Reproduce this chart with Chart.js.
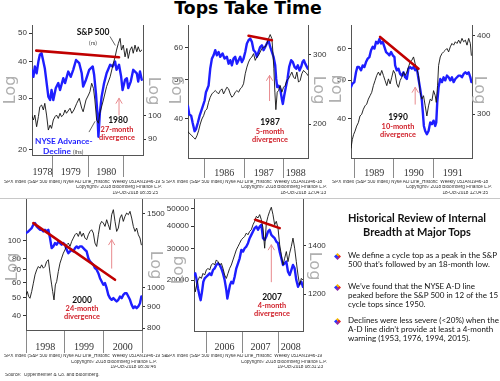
<!DOCTYPE html>
<html><head><meta charset="utf-8">
<script src="https://cdn.jsdelivr.net/npm/chart.js"></script>
<style>
html,body{margin:0;padding:0;background:#fff;}
#root{position:relative;width:500px;height:381px;overflow:hidden;background:#fff;font-family:Lato,'Liberation Sans',sans-serif;}
canvas{position:absolute;}
.t{position:absolute;white-space:nowrap;line-height:1;}
.c{transform:translate(-50%,-50%);}
.l{transform:translate(0,-50%);}
.yr{font-weight:bold;font-size:8.5px;color:#111;}
.red{font-weight:bold;font-size:7.4px;color:#d0202a;}
.log{position:absolute;font-family:'DejaVu Sans';font-size:16px;color:#b0b0b0;line-height:1;white-space:nowrap;}
.lg{transform:translate(-50%,-50%) rotate(-90deg);}
.rg{transform:translate(-50%,-50%) rotate(90deg);}
.fn{position:absolute;font-family:'Liberation Sans';font-size:4.7px;color:#333;white-space:nowrap;line-height:1;overflow:hidden;}
.fr{text-align:right;}
.bul{position:absolute;font-family:Lato;font-size:8px;color:#111;line-height:9px;white-space:nowrap;}
.ico{position:absolute;width:7px;height:7px;clip-path:polygon(50% 0,100% 50%,50% 100%,0 50%);background:conic-gradient(from -45deg,#f0b400 0 25%,#e02828 0 50%,#8a2aa8 0 75%,#2838ff 0);}
</style></head>
<body><div id="root">
<div class="t c" style="left:248px;top:9px;font-family:'DejaVu Sans';font-weight:bold;font-size:17.3px;color:#000;">Tops Take Time</div>

<canvas id="c1" width="165" height="162" style="left:0;top:21px;width:165px;height:162px"></canvas>
<canvas id="c2" width="165" height="162" style="left:165px;top:21px;width:165px;height:162px"></canvas>
<canvas id="c3" width="170" height="162" style="left:330px;top:21px;width:170px;height:162px"></canvas>
<canvas id="c4" width="165" height="165" style="left:0;top:195px;width:165px;height:165px"></canvas>
<canvas id="c5" width="165" height="165" style="left:165px;top:195px;width:165px;height:165px"></canvas>

<div style="position:absolute;left:0;top:198px;width:500px;height:1px;background:#c8c8c8"></div>

<!-- Log axis titles -->
<div class="log lg" style="left:10px;top:90px">Log</div>
<div class="log rg" style="left:154px;top:91px">Log</div>
<div class="log lg" style="left:176px;top:90px">Log</div>
<div class="log rg" style="left:319px;top:90px">Log</div>
<div class="log lg" style="left:336px;top:89px">Log</div>
<div class="log rg" style="left:480px;top:90px">Log</div>
<div class="log lg" style="left:12px;top:267px">Log</div>
<div class="log rg" style="left:156px;top:265px">Log</div>
<div class="log lg" style="left:178px;top:270px">Log</div>
<div class="log rg" style="left:315px;top:266px">Log</div>

<!-- panel 1 annotations -->
<div class="t c" style="left:93px;top:32px;font-weight:bold;font-size:8.5px;color:#111">S&amp;P 500</div>
<div class="t c" style="left:93px;top:43px;font-size:6px;color:#444">(rs)</div>
<div class="t l" style="left:35px;top:141px;font-weight:bold;font-size:8.3px;color:#1e1eff">NYSE Advance-</div>
<div class="t l" style="left:43px;top:151px;font-weight:bold;font-size:8.3px;color:#1e1eff">Decline <span style="font-weight:normal;font-size:6px;color:#444">(lhs)</span></div>
<div class="t c yr" style="left:118px;top:120px">1980</div>
<div class="t c red" style="left:117px;top:130px">27-month</div>
<div class="t c red" style="left:117px;top:138px">divergence</div>
<!-- panel 2 -->
<div class="t c yr" style="left:270px;top:122px">1987</div>
<div class="t c red" style="left:270px;top:132px">5-month</div>
<div class="t c red" style="left:270px;top:140px">divergence</div>
<!-- panel 3 -->
<div class="t c yr" style="left:398px;top:117px">1990</div>
<div class="t c red" style="left:398px;top:127px">10-month</div>
<div class="t c red" style="left:398px;top:135px">divergence</div>
<!-- panel 4 -->
<div class="t c yr" style="left:82px;top:300px">2000</div>
<div class="t c red" style="left:82px;top:309px">24-month</div>
<div class="t c red" style="left:82px;top:317px">divergence</div>
<!-- panel 5 -->
<div class="t c yr" style="left:272px;top:297px">2007</div>
<div class="t c red" style="left:272px;top:306px">4-month</div>
<div class="t c red" style="left:272px;top:314px">divergence</div>

<!-- footnotes -->
<div class="fn" style="left:4px;top:180px;width:161px">SPX Index (S&amp;P 500 Index) Nyse AD Line_Historic&nbsp; Weekly 05JAN1946-19 SEP2018</div>
<div class="fn fr" style="left:60px;top:185px;width:102px">Copyright© 2018 Bloomberg Finance L.P.</div>
<div class="fn fr" style="left:60px;top:190.5px;width:98px">19-Oct-2018 08:35:25</div>
<div class="fn" style="left:166px;top:180px;width:162px">SPX Index (S&amp;P 500 Index) Nyse AD Line_Historic&nbsp; Weekly 05JAN1946-18</div>
<div class="fn fr" style="left:220px;top:185px;width:107px">Copyright© 2018 Bloomberg Finance L.P.</div>
<div class="fn fr" style="left:220px;top:190.5px;width:106px">18-Oct-2018 12:04:13</div>
<div class="fn" style="left:332px;top:180px;width:162px">SPX Index (S&amp;P 500 Index) Nyse AD Line_Historic&nbsp; Weekly 05JAN1946-18</div>
<div class="fn fr" style="left:380px;top:185px;width:112px">Copyright© 2018 Bloomberg Finance L.P.</div>
<div class="fn fr" style="left:380px;top:190.5px;width:108px">18-Oct-2018 12:04:35</div>
<div class="fn" style="left:4px;top:354px;width:164px">SPX Index (S&amp;P 500 Index) Nyse AD Line_Historic&nbsp; Weekly 05JAN1946-19 SEP2018</div>
<div class="fn fr" style="left:50px;top:359.5px;width:107px">Copyright© 2018 Bloomberg Finance L.P.</div>
<div class="fn fr" style="left:50px;top:365px;width:106px">19-Oct-2018 08:30:46</div>
<div class="fn" style="left:166px;top:354px;width:164px">SPX Index (S&amp;P 500 Index) Nyse AD Line_Historic&nbsp; Weekly 05JAN1946-19</div>
<div class="fn fr" style="left:220px;top:359.5px;width:107px">Copyright© 2018 Bloomberg Finance L.P.</div>
<div class="fn fr" style="left:220px;top:365px;width:103px">19-Oct-2018 08:31:23</div>
<div class="fn" style="left:5px;top:373px;width:160px">Source:&nbsp; Oppenheimer &amp; Co. and Bloomberg.</div>

<!-- right text panel -->
<div class="t c" style="left:417px;top:217px;font-family:Lato;font-weight:bold;font-size:11px;color:#111">Historical Review of Internal</div>
<div class="t c" style="left:417px;top:231px;font-family:Lato;font-weight:bold;font-size:11px;color:#111">Breadth at Major Tops</div>
<div class="ico" style="left:334px;top:253px"></div>
<div class="bul" style="left:348px;top:251px">We define a cycle top as a peak in the S&amp;P<br>500 that’s followed by an 18-month low.</div>
<div class="ico" style="left:334px;top:284px"></div>
<div class="bul" style="left:348px;top:282px">We’ve found that the NYSE A-D line<br>peaked before the S&amp;P 500 in 12 of the 15<br>cycle tops since 1950.</div>
<div class="ico" style="left:334px;top:318px"></div>
<div class="bul" style="left:348px;top:316px">Declines were less severe (&lt;20%) when the<br>A-D line didn’t provide at least a 4-month<br>warning (1953, 1976, 1994, 2015).</div>
</div>

<script>
// ===== Panel 1: 1980 top =====
const p1AdYears = [1978.40,1978.45,1978.49,1978.54,1978.59,1978.63,1978.68,1978.77,1978.87,1978.92,1978.96,1979.01,1979.08,1979.15,1979.20,1979.29,1979.34,1979.43,1979.50,1979.57,1979.65,1979.74,1979.81,1979.85,1979.93,1980.02,1980.12,1980.16,1980.21,1980.25,1980.28,1980.32,1980.37,1980.44,1980.51,1980.61,1980.68,1980.75,1980.79,1980.86,1980.92,1980.96,1981.03,1981.08,1981.12,1981.19,1981.26,1981.36,1981.40,1981.45,1981.50];
const p1Ad = [37.5,35.5,38.5,36.5,40.0,42.2,42.7,38.0,30.4,29.6,32.0,29.6,32.5,33.8,32.0,35.1,33.8,37.0,35.5,37.5,40.5,39.5,36.5,32.9,34.7,37.5,38.5,36.0,31.2,26.7,22.2,26.7,30.4,33.8,36.5,39.0,38.5,40.0,37.5,39.0,35.5,32.0,34.7,35.1,32.5,34.2,37.5,36.5,34.2,37.0,34.7];
const p1SpxYears = [1978.40,1978.45,1978.49,1978.54,1978.59,1978.63,1978.68,1978.73,1978.77,1978.82,1978.87,1978.92,1978.96,1979.01,1979.06,1979.10,1979.15,1979.20,1979.24,1979.29,1979.34,1979.38,1979.48,1979.53,1979.59,1979.67,1979.74,1979.81,1979.85,1979.93,1980.00,1980.04,1980.09,1980.14,1980.18,1980.23,1980.28,1980.32,1980.42,1980.51,1980.61,1980.70,1980.75,1980.79,1980.84,1980.89,1980.93,1980.98,1981.03,1981.08,1981.12,1981.17,1981.22,1981.26,1981.31,1981.36,1981.40,1981.45,1981.50];
const p1Spx = [100.3,98.1,100.3,95.2,99.6,104.1,104.9,102.6,105.7,100.3,93.8,95.9,94.5,98.1,99.6,100.3,98.8,101.1,99.6,100.3,102.6,101.1,103.4,101.1,102.6,105.7,108.1,103.4,101.8,107.3,109.7,111.3,115.6,113.0,107.3,98.1,96.7,101.1,107.3,113.9,119.0,126.4,130.1,134.1,138.1,141.3,134.1,137.1,130.1,135.1,129.2,134.1,136.1,132.2,137.1,133.1,136.1,133.1,134.1];
const p1TrendYears = [1978.53,1980.86];
const p1Trend = [43.6,41.4];
const p1YearBounds = [1979,1980,1981];
const p1YearLabels = ['1978','1979','1980',''];
const p1LeftTicks = [20,30,40,50];
const p1RightTicks = [90,100];

// ===== Panel 2: 1987 top =====
const p2AdYears = [1985.578,1985.612,1985.662,1985.696,1985.747,1985.781,1985.831,1985.873,1985.916,1985.958,1986.000,1986.034,1986.068,1986.101,1986.143,1986.186,1986.228,1986.270,1986.312,1986.354,1986.397,1986.456,1986.506,1986.565,1986.608,1986.650,1986.692,1986.734,1986.776,1986.819,1986.861,1986.903,1986.945,1986.987,1987.030,1987.072,1987.114,1987.156,1987.198,1987.241,1987.283,1987.325,1987.367,1987.409,1987.452,1987.494,1987.536,1987.578,1987.620,1987.662,1987.705,1987.747,1987.789,1987.814,1987.840,1987.873,1987.916,1987.958,1987.983,1988.017,1988.059,1988.101,1988.143,1988.194,1988.236,1988.278,1988.321,1988.363,1988.405,1988.447,1988.481,1988.515,1988.549,1988.591,1988.616];
const p2Ad = [43.0,41.0,40.6,39.1,37.2,37.6,39.1,40.6,41.8,43.0,44.3,46.5,47.4,48.3,53.2,56.4,57.5,59.2,57.5,58.6,57.0,58.1,56.4,57.0,54.8,55.9,54.3,56.4,57.0,54.8,55.9,57.0,55.3,56.4,58.6,61.5,62.7,63.3,62.1,59.2,58.6,57.0,58.6,60.3,60.9,59.2,60.3,61.5,62.7,60.3,58.6,57.0,54.3,50.2,47.9,48.3,47.4,44.7,43.5,45.6,47.9,50.2,53.8,55.9,55.3,53.8,53.2,54.3,52.7,53.8,55.3,55.9,54.8,53.8,53.2];
const p2SpxYears = [1985.578,1985.637,1985.679,1985.722,1985.764,1985.806,1985.848,1985.890,1985.932,1985.975,1986.017,1986.059,1986.101,1986.143,1986.186,1986.228,1986.270,1986.312,1986.354,1986.397,1986.439,1986.481,1986.523,1986.565,1986.608,1986.650,1986.692,1986.734,1986.776,1986.819,1986.861,1986.903,1986.945,1986.987,1987.030,1987.072,1987.114,1987.156,1987.198,1987.241,1987.283,1987.325,1987.367,1987.409,1987.452,1987.494,1987.536,1987.578,1987.620,1987.662,1987.705,1987.730,1987.755,1987.781,1987.806,1987.840,1987.873,1987.916,1987.958,1988.000,1988.042,1988.084,1988.127,1988.169,1988.211,1988.253,1988.295,1988.338,1988.380,1988.422,1988.464,1988.506,1988.549,1988.591,1988.616];
const p2Spx = [191.2,188.6,186.7,184.9,183.1,186.7,192.3,200.0,206.0,210.0,216.3,218.4,227.2,234.0,238.6,241.0,243.3,241.0,238.6,243.3,245.7,238.6,243.3,248.1,245.7,238.6,234.0,236.3,241.0,243.3,241.0,245.7,248.1,253.1,268.4,279.1,287.4,293.2,296.0,301.9,290.3,296.0,299.0,304.9,310.9,314.0,314.0,320.2,329.7,337.6,329.7,304.9,276.4,241.0,217.6,241.0,243.3,250.6,241.0,248.1,250.6,258.1,260.6,265.8,271.0,263.2,260.6,271.0,255.6,258.1,268.4,273.7,271.0,268.4,265.8];
const p2TrendYears = [1987.114,1987.705];
const p2Trend = [64.3,62.7];
const p2YearBounds = [1986,1987,1988];
const p2YearLabels = ['','1986','1987','1988'];
const p2LeftTicks = [40,50,60];
const p2RightTicks = [200,300];

// ===== Panel 3: 1990 top =====
const p3AdYears = [1988.916,1988.949,1989.000,1989.042,1989.076,1989.118,1989.169,1989.211,1989.253,1989.295,1989.338,1989.380,1989.422,1989.464,1989.506,1989.549,1989.591,1989.633,1989.675,1989.717,1989.759,1989.802,1989.844,1989.886,1989.928,1989.970,1990.013,1990.030,1990.072,1990.114,1990.156,1990.198,1990.241,1990.283,1990.325,1990.367,1990.409,1990.451,1990.494,1990.536,1990.578,1990.620,1990.662,1990.705,1990.730,1990.755,1990.789,1990.831,1990.873,1990.916,1990.958,1991.000,1991.042,1991.068,1991.093,1991.127,1991.169,1991.211,1991.253,1991.295,1991.338,1991.380,1991.422,1991.464,1991.506,1991.549,1991.591,1991.633,1991.675,1991.717,1991.759,1991.802,1991.844,1991.886,1991.928,1991.954];
const p3Ad = [48.0,48.9,49.4,52.3,53.9,53.9,52.9,54.4,53.9,55.5,56.6,57.1,59.4,60.6,60.0,62.4,61.8,63.4,61.8,62.4,60.6,58.8,58.3,57.7,58.8,57.7,57.1,54.4,52.9,53.4,51.8,51.3,52.3,50.8,50.3,53.4,53.9,53.4,53.9,52.9,53.4,50.3,47.5,44.4,41.4,38.3,37.2,36.5,37.2,39.1,38.7,39.5,38.3,39.1,43.9,48.0,50.3,49.4,50.8,49.9,51.3,50.8,49.9,50.8,49.4,50.3,50.8,51.3,51.3,50.8,51.8,52.3,51.8,52.3,50.8,49.4];
const p3SpxYears = [1988.916,1988.949,1988.983,1989.017,1989.059,1989.101,1989.143,1989.186,1989.228,1989.270,1989.312,1989.354,1989.397,1989.439,1989.481,1989.523,1989.565,1989.608,1989.650,1989.692,1989.734,1989.776,1989.819,1989.861,1989.903,1989.945,1989.987,1990.030,1990.072,1990.114,1990.156,1990.198,1990.241,1990.283,1990.325,1990.367,1990.409,1990.451,1990.494,1990.536,1990.578,1990.620,1990.662,1990.705,1990.747,1990.789,1990.831,1990.873,1990.916,1990.958,1991.000,1991.042,1991.068,1991.101,1991.127,1991.169,1991.211,1991.253,1991.295,1991.338,1991.380,1991.422,1991.464,1991.506,1991.549,1991.591,1991.633,1991.675,1991.717,1991.759,1991.802,1991.844,1991.886,1991.928,1991.954];
const p3Spx = [265.1,273.5,278.6,282.0,287.3,290.9,298.1,300.0,305.6,309.4,311.3,317.1,321.1,325.1,333.2,339.4,345.8,350.1,345.8,352.2,345.8,339.4,333.2,341.5,335.3,343.6,352.2,347.9,335.3,331.1,339.4,343.6,350.1,345.8,350.1,356.6,363.3,365.5,370.1,361.0,354.4,345.8,325.1,317.1,321.1,309.4,298.1,309.4,317.1,315.2,327.1,321.1,313.3,333.2,358.8,370.1,374.6,377.0,379.3,381.7,377.0,384.0,388.8,386.4,391.2,388.8,393.6,388.8,396.1,391.2,393.6,386.4,396.1,388.8,372.3];
const p3TrendYears = [1989.650,1990.620];
const p3Trend = [64.2,53.4];
const p3YearBounds = [1989,1990,1991];
const p3YearLabels = ['','1989','1990','1991'];
const p3LeftTicks = [40,50,60];
const p3RightTicks = [300,400];

// ===== Panel 4: 2000 top =====
const p4AdYears = [1998.000,1998.060,1998.103,1998.147,1998.190,1998.233,1998.276,1998.319,1998.362,1998.405,1998.448,1998.491,1998.534,1998.578,1998.621,1998.664,1998.707,1998.750,1998.793,1998.836,1998.879,1998.922,1998.966,1999.009,1999.052,1999.095,1999.138,1999.181,1999.224,1999.267,1999.310,1999.353,1999.397,1999.440,1999.483,1999.526,1999.569,1999.612,1999.655,1999.698,1999.741,1999.784,1999.828,1999.871,1999.914,1999.957,2000.000,2000.043,2000.086,2000.129,2000.172,2000.216,2000.259,2000.302,2000.345,2000.388,2000.431,2000.474,2000.517,2000.560,2000.603,2000.647,2000.690,2000.733,2000.776,2000.819,2000.862,2000.905,2000.948,2000.983];
const p4Ad = [109.8,112.1,114.4,116.8,121.7,124.2,119.2,116.8,114.4,114.4,112.1,114.4,112.1,114.4,103.3,91.4,93.3,97.2,95.2,99.2,97.2,95.2,97.2,95.2,89.5,85.9,87.7,89.5,87.7,91.4,93.3,91.4,93.3,93.3,91.4,89.5,87.7,80.8,77.6,76.0,74.5,71.5,70.1,67.2,63.2,60.7,58.3,59.5,55.9,51.5,49.5,48.5,49.5,48.5,47.5,48.5,50.5,49.5,51.5,52.6,52.6,50.5,48.5,45.6,43.8,44.7,43.8,44.7,46.5,50.5];
const p4SpxYears = [1998.000,1998.034,1998.069,1998.103,1998.147,1998.190,1998.233,1998.276,1998.319,1998.362,1998.405,1998.448,1998.491,1998.534,1998.578,1998.621,1998.664,1998.690,1998.724,1998.759,1998.793,1998.836,1998.879,1998.922,1998.966,1999.009,1999.052,1999.095,1999.138,1999.181,1999.224,1999.267,1999.310,1999.353,1999.397,1999.440,1999.483,1999.526,1999.569,1999.612,1999.655,1999.698,1999.741,1999.784,1999.828,1999.871,1999.914,1999.957,2000.000,2000.043,2000.086,2000.129,2000.172,2000.216,2000.259,2000.302,2000.345,2000.388,2000.431,2000.474,2000.517,2000.560,2000.603,2000.647,2000.690,2000.733,2000.776,2000.819,2000.862,2000.905,2000.948,2000.983];
const p4Spx = [960.3,978.1,951.5,942.8,978.1,1024.2,1072.5,1102.5,1123.0,1112.7,1133.4,1112.7,1123.0,1154.5,1165.2,1082.4,1014.8,978.1,934.1,1014.8,1033.7,1092.4,1143.9,1176.0,1208.9,1231.4,1265.8,1277.5,1254.2,1289.3,1313.3,1337.7,1350.1,1325.5,1362.6,1325.5,1350.1,1313.3,1301.3,1337.7,1362.6,1375.2,1350.1,1277.5,1254.2,1337.7,1413.7,1440.0,1426.8,1400.8,1453.3,1413.7,1375.2,1494.0,1535.9,1440.0,1362.6,1387.9,1466.7,1494.0,1440.0,1480.4,1507.9,1494.0,1521.8,1466.7,1400.8,1362.6,1387.9,1337.7,1313.3,1265.8];
const p4TrendYears = [1998.190,2000.302];
const p4Trend = [124.2,62.0];
const p4YearBounds = [1998,1999,2000,2001];
const p4YearLabels = ['1998','1999','2000'];
const p4LeftTicks = [40,50,60,70,80,100];
const p4RightTicks = [800,900,1000,1500];

// ===== Panel 5: 2007 top =====
const p5AdYears = [2005.659,2005.696,2005.733,2005.770,2005.806,2005.843,2005.880,2005.917,2005.954,2006.000,2006.046,2006.092,2006.138,2006.184,2006.230,2006.276,2006.323,2006.369,2006.415,2006.461,2006.507,2006.553,2006.581,2006.618,2006.654,2006.691,2006.737,2006.783,2006.829,2006.876,2006.922,2006.968,2007.014,2007.060,2007.106,2007.152,2007.198,2007.244,2007.290,2007.336,2007.382,2007.429,2007.475,2007.521,2007.567,2007.613,2007.659,2007.705,2007.751,2007.797,2007.843,2007.889,2007.935,2007.982,2008.028,2008.074,2008.120,2008.166,2008.212,2008.258,2008.304,2008.350,2008.396,2008.442,2008.488,2008.535,2008.581,2008.627,2008.673];
const p5Ad = [21334,21796,20000,17962,16481,15452,17206,19574,20434,20878,21334,21796,21334,22754,23248,24270,24800,24270,23248,21796,20000,17580,15786,17206,18750,19574,19158,20878,23248,24800,26452,29454,28828,30094,30748,32100,34240,35744,37314,38954,39802,38126,39802,40666,34240,33510,34980,37314,38126,35744,34980,34240,32798,32100,28828,26452,24270,24800,25338,22270,21334,22754,24270,23248,20000,18352,19158,19574,18352];
const p5SpxYears = [2005.659,2005.696,2005.733,2005.770,2005.816,2005.862,2005.908,2005.954,2006.000,2006.046,2006.092,2006.138,2006.184,2006.230,2006.276,2006.323,2006.369,2006.415,2006.461,2006.507,2006.553,2006.599,2006.645,2006.691,2006.737,2006.783,2006.829,2006.876,2006.922,2006.968,2007.014,2007.060,2007.106,2007.152,2007.198,2007.244,2007.290,2007.336,2007.382,2007.429,2007.475,2007.521,2007.567,2007.613,2007.659,2007.705,2007.751,2007.797,2007.843,2007.889,2007.935,2007.982,2008.028,2008.074,2008.120,2008.166,2008.212,2008.258,2008.304,2008.350,2008.396,2008.442,2008.488,2008.535,2008.581,2008.627,2008.673];
const p5Spx = [1248.1,1209.0,1234.9,1254.7,1268.2,1261.4,1281.7,1275.0,1295.4,1302.3,1295.4,1316.2,1323.2,1316.2,1337.4,1330.3,1316.2,1323.2,1302.3,1275.0,1261.4,1281.7,1302.3,1316.2,1337.4,1358.9,1380.7,1395.5,1410.4,1425.5,1433.0,1440.7,1456.1,1448.4,1463.8,1471.6,1495.2,1511.3,1535.4,1527.4,1543.8,1519.3,1479.5,1388.0,1503.2,1535.4,1560.2,1580.2,1543.8,1495.2,1511.3,1479.5,1402.9,1358.9,1316.2,1344.5,1373.4,1330.3,1366.2,1395.5,1433.0,1388.0,1330.3,1275.0,1234.9,1261.4,1254.7];
const p5TrendYears = [2007.355,2008.028];
const p5Trend = [43380,38960];
const p5YearBounds = [2006,2007,2008];
const p5YearLabels = ['','2006','2007','2008'];
const p5LeftTicks = [20000,30000,40000,50000];
const p5RightTicks = [1200,1400];

// ===== helpers =====
Chart.defaults.font.family = "'Liberation Sans', sans-serif";
const pts = (xs, ys) => xs.map((x, i) => ({x, y: ys[i]}));

function annotPlugin(arrows, pointers) {
  return {
    id: 'annot',
    afterDatasetsDraw(chart) {
      const ctx = chart.ctx, xs = chart.scales.x;
      ctx.save();
      ctx.lineCap = 'round';
      arrows.forEach(a => {
        const ys = chart.scales[a.axis];
        const x = xs.getPixelForValue(a.x);
        const y0 = ys.getPixelForValue(a.from), y1 = ys.getPixelForValue(a.to);
        ctx.strokeStyle = '#e88a8e'; ctx.lineWidth = 1;
        ctx.beginPath(); ctx.moveTo(x, y0); ctx.lineTo(x, y1); ctx.stroke();
        ctx.beginPath(); ctx.moveTo(x - 3, y1 + 5); ctx.lineTo(x, y1); ctx.lineTo(x + 3, y1 + 5); ctx.stroke();
      });
      pointers.forEach(p => {
        const ys = chart.scales[p.axis];
        ctx.strokeStyle = '#222'; ctx.lineWidth = 0.7;
        ctx.beginPath();
        ctx.moveTo(xs.getPixelForValue(p.x0), ys.getPixelForValue(p.y0));
        ctx.lineTo(xs.getPixelForValue(p.x1), ys.getPixelForValue(p.y1));
        ctx.stroke();
      });
      ctx.restore();
    }
  };
}

function xAxis(min, max, bounds, labels, tickLen, pad, h) {
  const inner = bounds.filter(b => b > min && b < max);
  const edges = [min, ...inner, max];
  const labelMap = new Map();
  const vals = [];
  const boundSet = new Set(bounds.filter(b => b >= min && b <= max));
  boundSet.forEach(b => vals.push(b));
  for (let i = 0; i < edges.length - 1; i++) {
    if (labels[i]) { const m = (edges[i] + edges[i + 1]) / 2; labelMap.set(m, labels[i]); vals.push(m); }
  }
  vals.sort((a, b) => a - b);
  return {
    type: 'linear', min, max, position: 'bottom',
    afterBuildTicks: s => { s.ticks = vals.map(v => ({value: v})); },
    afterFit: s => { s.height = h; s.paddingLeft = 0; s.paddingRight = 0; s.paddingTop = 0; s.paddingBottom = 0; },
    ticks: {
      autoSkip: false, maxRotation: 0, minRotation: 0, padding: pad,
      callback: v => labelMap.get(v) || '',
      font: {family: "'Liberation Serif', serif", size: 10}, color: '#333'
    },
    grid: {
      drawOnChartArea: false, drawTicks: true, tickLength: tickLen, lineWidth: 1,
      color: ctx => (ctx.tick && boundSet.has(ctx.tick.value)) ? '#8a8a8a' : 'rgba(0,0,0,0)'
    },
    border: {display: true, color: '#555', width: 1}
  };
}

function yAxis(pos, min, max, ticks, w) {
  return {
    type: 'logarithmic', position: pos, min, max,
    afterBuildTicks: s => { s.ticks = ticks.map(v => ({value: v})); },
    afterFit: s => { s.width = w; s.paddingTop = 0; s.paddingBottom = 0; s.paddingLeft = 0; s.paddingRight = 0; },
    ticks: {autoSkip: false, padding: 2, callback: v => String(v), font: {size: 8}, color: '#333'},
    grid: {drawOnChartArea: false, drawTicks: true, tickLength: 3, color: '#333', lineWidth: 1},
    border: {display: true, color: '#555', width: 1}
  };
}

function panel(id, d) {
  new Chart(document.getElementById(id), {
    type: 'line',
    data: {datasets: [
      {label: 'NYSE Advance-Decline', data: pts(d.adX, d.ad), yAxisID: 'y', borderColor: '#1e1eff', borderWidth: 2.4, order: 3},
      {label: 'S&P 500', data: pts(d.spxX, d.spx), yAxisID: 'y1', borderColor: '#111', borderWidth: 0.9, order: 2},
      {label: 'trend', data: pts(d.trX, d.tr), yAxisID: 'y', borderColor: '#c00000', borderWidth: 2.6, order: 1}
    ]},
    options: {
      responsive: false, animation: false, devicePixelRatio: 1,
      layout: {autoPadding: false, padding: {left: 0, right: 0, top: d.top, bottom: 0}},
      elements: {point: {radius: 0}, line: {tension: 0, borderCapStyle: 'round', borderJoinStyle: 'round'}},
      plugins: {legend: {display: false}, tooltip: {enabled: false}},
      scales: {
        x: xAxis(d.xmin, d.xmax, d.bounds, d.labels, d.tickLen, d.pad, d.xh),
        y: yAxis('left', d.lmin, d.lmax, d.lticks, d.wl),
        y1: yAxis('right', d.rmin, d.rmax, d.rticks, d.wr)
      }
    },
    plugins: [annotPlugin(d.arrows || [], d.pointers || [])]
  });
}

panel('c1', {adX: p1AdYears, ad: p1Ad, spxX: p1SpxYears, spx: p1Spx, trX: p1TrendYears, tr: p1Trend,
  xmin: 1978.41, xmax: 1981.535, bounds: p1YearBounds, labels: p1YearLabels, tickLen: 22, pad: -11, xh: 28,
  lmin: 19.23, lmax: 53.3, lticks: p1LeftTicks, rmin: 83.9, rmax: 150, rticks: p1RightTicks, wl: 32, wr: 22, top: 4,
  arrows: [{x: 1980.86, from: 100.3, to: 108.1, axis: 'y1'}],
  pointers: [{x0: 1980.61, y0: 142.3, x1: 1980.75, y1: 137.1, axis: 'y1'}, {x0: 1980.02, y0: 93.1, x1: 1980.18, y1: 97.4, axis: 'y1'}]});

panel('c2', {adX: p2AdYears, ad: p2Ad, spxX: p2SpxYears, spx: p2Spx, trX: p2TrendYears, tr: p2Trend,
  xmin: 1985.58, xmax: 1988.62, bounds: p2YearBounds, labels: p2YearLabels, tickLen: 20, pad: -11, xh: 25,
  lmin: 31.9, lmax: 68.4, lticks: p2LeftTicks, rmin: 164, rmax: 357, rticks: p2RightTicks, wl: 23, wr: 22, top: 4,
  arrows: [{x: 1987.646, from: 229.4, to: 265.8, axis: 'y1'}]});

panel('c3', {adX: p3AdYears, ad: p3Ad, spxX: p3SpxYears, spx: p3Spx, trX: p3TrendYears, tr: p3Trend,
  xmin: 1988.916, xmax: 1991.97, bounds: p3YearBounds, labels: p3YearLabels, tickLen: 20, pad: -11, xh: 25,
  lmin: 31.8, lmax: 68.8, lticks: p3LeftTicks, rmin: 255.6, rmax: 416, rticks: p3RightTicks, wl: 21, wr: 28, top: 4,
  arrows: [{x: 1990.536, from: 311.3, to: 331.1, axis: 'y1'}]});

panel('c4', {adX: p4AdYears, ad: p4Ad, spxX: p4SpxYears, spx: p4Spx, trX: p4TrendYears, tr: p4Trend,
  xmin: 1998.0, xmax: 2001.0, bounds: p4YearBounds, labels: p4YearLabels, tickLen: 23, pad: -12, xh: 30,
  lmin: 33.5, lmax: 166.8, lticks: p4LeftTicks, rmin: 791.5, rmax: 1629, rticks: p4RightTicks, wl: 26, wr: 23, top: 4,
  arrows: [{x: 2000.216, from: 1112.7, to: 1301.3, axis: 'y1'}]});

panel('c5', {adX: p5AdYears, ad: p5Ad, spxX: p5SpxYears, spx: p5Spx, trX: p5TrendYears, tr: p5Trend,
  xmin: 2005.659, xmax: 2008.673, bounds: p5YearBounds, labels: p5YearLabels, tickLen: 22, pad: -12, xh: 29,
  lmin: 10400, lmax: 56640, lticks: p5LeftTicks, rmin: 1068, rmax: 1622, rticks: p5RightTicks, wl: 29, wr: 27, top: 4,
  arrows: [{x: 2007.797, from: 1248.1, to: 1402.9, axis: 'y1'}]});
</script>
</body></html>
